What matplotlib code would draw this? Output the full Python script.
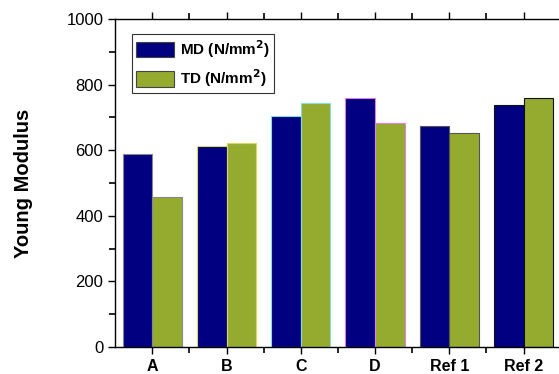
import numpy as np
import matplotlib
matplotlib.use("Agg")
from matplotlib import pyplot as plt
from matplotlib.ticker import MultipleLocator, FixedLocator

plt.rcParams['font.family'] = ['Liberation Sans', 'DejaVu Sans']

categories = ['A', 'B', 'C', 'D', 'Ref 1', 'Ref 2']
md_values = [590, 612, 705, 758, 675, 738]
td_values = [458, 622, 743, 683, 653, 758]
edge_colors = ['#888888', '#d8d860', '#80e0e0', '#e080e0', '#555555', '#111111']

fig = plt.figure(figsize=(5.59, 3.74), dpi=100)
ax = fig.add_axes([0.206, 0.072, 0.797, 0.877])

x = np.arange(len(categories))
w = 0.4
ax.bar(x - w / 2, md_values, w, color='#000080', edgecolor=edge_colors,
       linewidth=0.8, label='MD (N/mm$^\\mathbf{2}$)')
ax.bar(x + w / 2, td_values, w, color='#95ab2f', edgecolor=edge_colors,
       linewidth=0.8, label='TD (N/mm$^\\mathbf{2}$)')

ax.set_xlim(-0.5, 5.5)
ax.set_ylim(0, 1000)
ax.xaxis.set_major_locator(FixedLocator(x))
ax.set_xticklabels(categories, fontweight='bold', fontsize=11.5)
ax.xaxis.set_minor_locator(FixedLocator(x[:-1] + 0.5))
ax.yaxis.set_major_locator(MultipleLocator(200))
ax.yaxis.set_minor_locator(MultipleLocator(100))
ax.tick_params(axis='y', labelsize=12)
ax.tick_params(which='major', length=5, width=1)
ax.tick_params(which='minor', length=4, width=1.2)
ax.tick_params(which='both', direction='out', bottom=True, left=True)
ax.tick_params(which='both', top=True, right=True)

for s in ax.spines.values():
    s.set_linewidth(1)

ax.set_ylabel('Young Modulus', fontweight='bold', fontsize=14.5, labelpad=24)

leg = ax.legend(loc='upper left', bbox_to_anchor=(0.038, 0.954), borderaxespad=0,
                frameon=True, fancybox=False, edgecolor='black',
                prop={'weight': 'bold', 'size': 11}, handlelength=2.5,
                handleheight=1.2, labelspacing=0.5, borderpad=0.25,
                handletextpad=0.4)
leg.get_frame().set_linewidth(0.8)
for h in leg.legend_handles:
    h.set_edgecolor('#444444')

fig.savefig('out.png', dpi=100)
